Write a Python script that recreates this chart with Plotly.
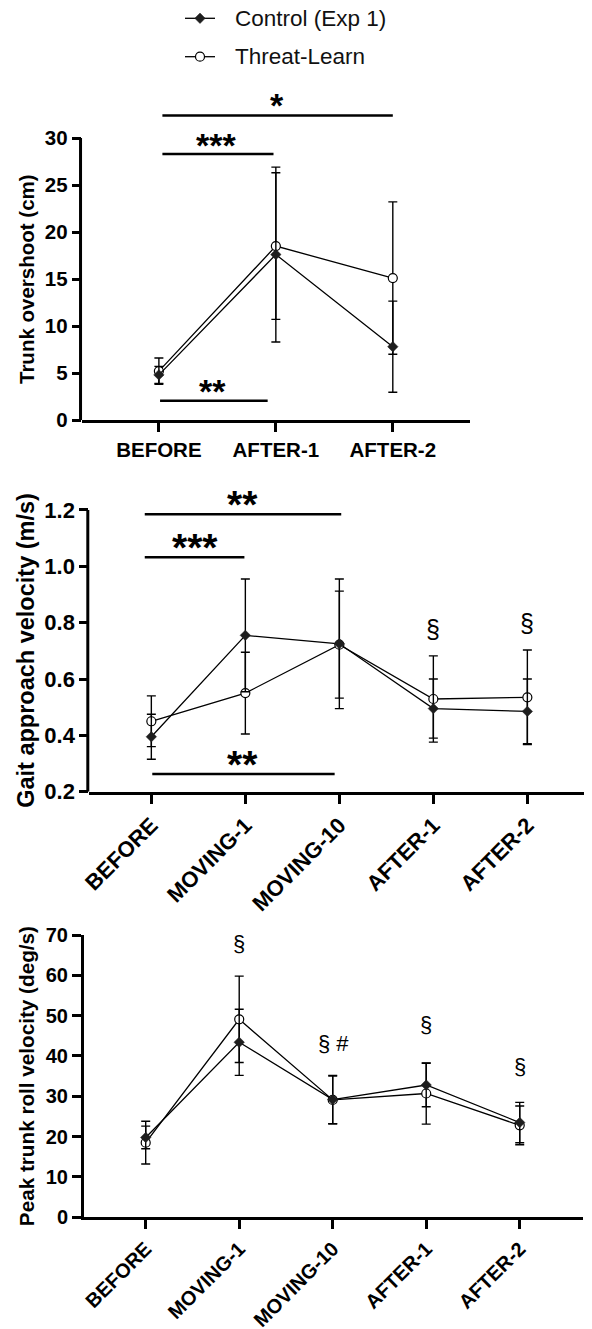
import plotly.graph_objects as go

# page body has an 8px margin, so the figure is shifted by OFF inside the 592x1329 window
VW, VH = 592, 1329
OFF = 8
W, H = VW - OFF, VH - OFF
FONT = "Liberation Sans, Arial, sans-serif"

# ---------------- data ----------------
cats1 = ["BEFORE", "AFTER-1", "AFTER-2"]
ctrl1 = [4.8, 17.6, 7.8]
ctrl1_err = [0.9, 9.3, 4.85]
threat1 = [5.2, 18.5, 15.1]
threat1_err = [1.4, 7.8, 8.1]

cats2 = ["BEFORE", "MOVING-1", "MOVING-10", "AFTER-1", "AFTER-2"]
ctrl2 = [0.395, 0.755, 0.725, 0.495, 0.485]
ctrl2_err = [0.08, 0.20, 0.23, 0.105, 0.115]
threat2 = [0.45, 0.55, 0.722, 0.529, 0.535]
threat2_err = [0.09, 0.145, 0.19, 0.153, 0.168]

cats3 = ["BEFORE", "MOVING-1", "MOVING-10", "AFTER-1", "AFTER-2"]
ctrl3 = [19.8, 43.4, 29.2, 32.8, 23.5]
ctrl3_err = [2.8, 8.2, 6.0, 5.4, 5.0]
threat3 = [18.5, 49.1, 29.1, 30.7, 22.8]
threat3_err = [5.3, 10.7, 5.9, 7.6, 4.8]

y1_ticks = [0, 5, 10, 15, 20, 25, 30]
y2_ticks = [0.2, 0.4, 0.6, 0.8, 1.0, 1.2]
y3_ticks = [0, 10, 20, 30, 40, 50, 60, 70]

titles = ["Trunk overshoot (cm)", "Gait approach velocity (m/s)",
          "Peak trunk roll velocity (deg/s)"]
legend_names = ["Control (Exp 1)", "Threat-Learn"]

# significance brackets: (x0, x1, y, label, label x, label y)
sig1 = [(0.03, 2.0, 32.4, "*", 1.01, 34.3),
        (0.03, 0.98, 28.3, "***", 0.49, 30.1),
        (0.01, 0.93, 2.05, "**", 0.46, 3.9)]
sig2 = [(-0.07, 2.02, 1.185, "**", 0.97, 1.25),
        (-0.07, 0.99, 1.032, "***", 0.46, 1.10),
        (0.01, 1.95, 0.263, "**", 0.97, 0.33)]
# symbol marks: (x, y, text)
sym2 = [(3, 0.776, "§"), (4, 0.798, "§")]
sym3 = [(1, 67.9, "§"), (2.01, 43.1, "§ #"), (3, 47.7, "§"), (4, 37.5, "§")]

# ---------------- layout helpers (window pixels -> paper) ----------------
def px(a):
    return (a - OFF) / W

def py(b):
    return 1 - (b - OFF) / H

def xd(a, b):
    return [px(a), px(b)]

def yd(bottom, top):
    return [py(bottom), py(top)]

panels = [
    dict(x="x", y="y", cats=cats1, ctrl=ctrl1, ce=ctrl1_err, thr=threat1, te=threat1_err,
         xdom=xd(81.7, 470), ydom=yd(420, 81.6), yrange=[0, 36], xrange=[-0.66, 2.66],
         ticks=y1_ticks, ttext=[str(v) for v in y1_ticks], angle=0, tf=20.5, titf=20.5,
         starf=34, symf=24, sig=sig1, sym=[], native_yline=False),
    dict(x="x2", y="y2", cats=cats2, ctrl=ctrl2, ce=ctrl2_err, thr=threat2, te=threat2_err,
         xdom=xd(89.3, 589.4), ydom=yd(791.7, 481.8), yrange=[0.2, 1.3], xrange=[-0.66, 4.66],
         ticks=y2_ticks, ttext=["%.1f" % v for v in y2_ticks], angle=-45, tf=22, titf=23.5,
         starf=39, symf=25, sig=sig2, sym=sym2, native_yline=False),
    dict(x="x3", y="y3", cats=cats3, ctrl=ctrl3, ce=ctrl3_err, thr=threat3, te=threat3_err,
         xdom=xd(84, 583.3), ydom=yd(1217.3, 935), yrange=[0, 70], xrange=[-0.66, 4.68],
         ticks=y3_ticks, ttext=[str(v) for v in y3_ticks], angle=-45, tf=20, titf=20.7,
         starf=34, symf=22, sig=[], sym=sym3, native_yline=True),
]

fig = go.Figure()
shapes = []
annotations = []
layout = {}

for i, p in enumerate(panels):
    err_style = dict(type="data", visible=True, thickness=1.4, width=4.5, color="black")
    fig.add_trace(go.Scatter(
        x=p["cats"], y=p["thr"], xaxis=p["x"], yaxis=p["y"], mode="lines+markers",
        name=legend_names[1], showlegend=False, cliponaxis=False,
        line=dict(color="black", width=1.3),
        marker=dict(symbol="circle", size=9, color="white", line=dict(color="black", width=1.2)),
        error_y=dict(array=p["te"], **err_style)))
    fig.add_trace(go.Scatter(
        x=p["cats"], y=p["ctrl"], xaxis=p["x"], yaxis=p["y"], mode="lines+markers",
        name=legend_names[0], showlegend=False, cliponaxis=False,
        line=dict(color="black", width=1.3),
        marker=dict(symbol="diamond", size=8, color="#1e1e1e", line=dict(color="#1e1e1e", width=0.5)),
        error_y=dict(array=p["ce"], **err_style)))

    suffix = "" if i == 0 else str(i + 1)
    layout["xaxis" + suffix] = dict(
        domain=p["xdom"], anchor=p["y"], type="category", categoryorder="array",
        categoryarray=p["cats"], range=p["xrange"], showgrid=False, zeroline=False,
        automargin=False,
        showline=True, linewidth=3, linecolor="black", ticks="outside", ticklen=9,
        tickwidth=3, tickcolor="black", tickangle=p["angle"],
        tickfont=dict(family=FONT, size=p["tf"], color="black", weight="bold"))
    layout["yaxis" + suffix] = dict(
        domain=p["ydom"], anchor=p["x"], range=p["yrange"], showgrid=False, zeroline=False,
        automargin=False,
        showline=p["native_yline"], linewidth=3, linecolor="black", ticks="outside", ticklen=9,
        tickwidth=3, tickcolor="black", tickmode="array", tickvals=p["ticks"], ticktext=p["ttext"],
        tickfont=dict(family=FONT, size=p["tf"], color="black", weight="bold"))

    if not p["native_yline"]:
        shapes.append(dict(type="line", xref=p["x"] + " domain", yref=p["y"],
                           x0=-0.003, x1=-0.003, y0=p["ticks"][0], y1=p["ticks"][-1],
                           line=dict(color="black", width=3)))

    # axis title
    annotations.append(dict(xref="paper", yref=p["y"], x=px(26),
                            y=(p["ticks"][0] + p["ticks"][-1]) / 2, text=titles[i],
                            textangle=-90, showarrow=False, xanchor="center", yanchor="middle",
                            font=dict(family=FONT, size=p["titf"], color="black", weight="bold")))

    for (x0, x1, yv, lab, lx, ly) in p["sig"]:
        shapes.append(dict(type="line", xref=p["x"], yref=p["y"], x0=x0, x1=x1, y0=yv, y1=yv,
                           line=dict(color="black", width=2.6)))
        annotations.append(dict(xref=p["x"], yref=p["y"], x=lx, y=ly, text=lab, showarrow=False,
                                xanchor="center", yanchor="middle", yshift=-0.23 * p["starf"],
                                font=dict(family=FONT, size=p["starf"], color="black", weight="bold")))
    for (sx, sy, lab) in p["sym"]:
        annotations.append(dict(xref=p["x"], yref=p["y"], x=sx, y=sy, text=lab, showarrow=False,
                                xanchor="center", yanchor="middle",
                                font=dict(family=FONT, size=p["symf"], color="black")))

# ---------------- custom legend (overlay axes in window-pixel units) ----------------
layout["xaxis4"] = dict(domain=[0, 1], range=[OFF, OFF + W], visible=False, fixedrange=True,
                        anchor="y4", automargin=False)
layout["yaxis4"] = dict(domain=[0, 1], range=[OFF + H, OFF], visible=False, fixedrange=True,
                        anchor="x4", automargin=False)
leg_rows = [18.3, 56.7]
leg_styles = [
    dict(symbol="diamond", size=8, color="#1e1e1e", line=dict(color="#1e1e1e", width=0.5)),
    dict(symbol="circle", size=9, color="white", line=dict(color="black", width=1.2)),
]
for name, ry, ms in zip(legend_names, leg_rows, leg_styles):
    fig.add_trace(go.Scatter(x=[185, 215], y=[ry, ry], xaxis="x4", yaxis="y4", mode="lines",
                             line=dict(color="black", width=1.3), showlegend=False, hoverinfo="skip"))
    fig.add_trace(go.Scatter(x=[200], y=[ry], xaxis="x4", yaxis="y4", mode="markers",
                             marker=ms, showlegend=False, hoverinfo="skip"))
    annotations.append(dict(xref="x4", yref="y4", x=233, y=ry, text=name, showarrow=False,
                            xanchor="left", yanchor="middle",
                            font=dict(family=FONT, size=22.5, color="#111111")))

fig.update_layout(
    template="none",
    width=W, height=H, margin=dict(l=0, r=0, t=0, b=0, autoexpand=False),
    paper_bgcolor="white", plot_bgcolor="rgba(0,0,0,0)",
    showlegend=False, shapes=shapes, annotations=annotations,
    font=dict(family=FONT, color="black"),
    **layout)

fig.write_html("out.html")
